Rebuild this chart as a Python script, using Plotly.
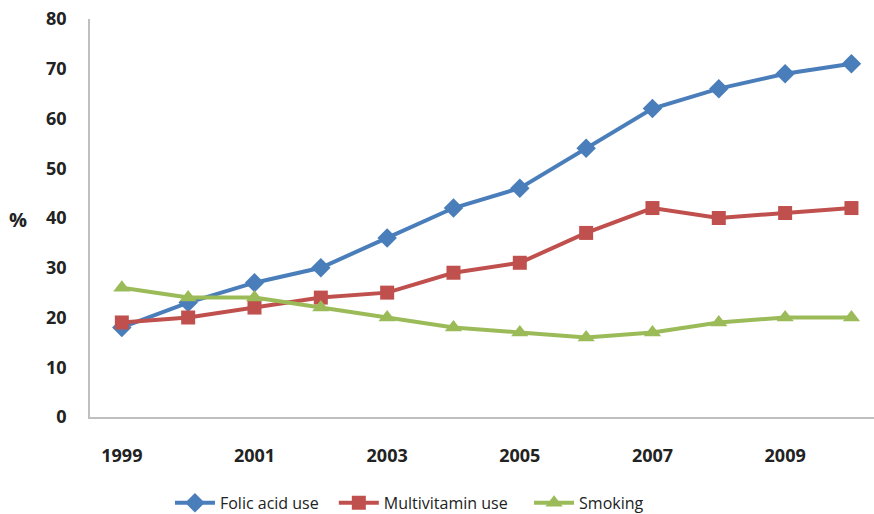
import plotly.graph_objects as go

years = [1999, 2000, 2001, 2002, 2003, 2004, 2005, 2006, 2007, 2008, 2009, 2010]
folic = [18, 23, 27, 30, 36, 42, 46, 54, 62, 66, 69, 71]
multivit = [19, 20, 22, 24, 25, 29, 31, 37, 42, 40, 41, 42]
smoking = [26, 24, 24, 22, 20, 18, 17, 16, 17, 19, 20, 20]
x_ticks = [1999, 2001, 2003, 2005, 2007, 2009]
y_ticks = [0, 10, 20, 30, 40, 50, 60, 70, 80]

fig = go.Figure()
fig.add_trace(go.Scatter(x=years, y=folic, name="Folic acid use", mode="lines+markers",
                         line=dict(color="#4A7EBB", width=4),
                         marker=dict(symbol="diamond", size=15, color="#4A7EBB"),
                         legend="legend"))
fig.add_trace(go.Scatter(x=years, y=multivit, name="Multivitamin use", mode="lines+markers",
                         line=dict(color="#C0504D", width=4),
                         marker=dict(symbol="square", size=14, color="#C0504D"),
                         legend="legend2"))
fig.add_trace(go.Scatter(x=years, y=smoking, name="Smoking", mode="lines+markers",
                         line=dict(color="#9BBB59", width=4),
                         marker=dict(symbol="triangle-up", size=15, color="#9BBB59"),
                         legend="legend3"))

leg_common = dict(orientation="h", y=-0.216, yanchor="middle", xanchor="left",
                  font=dict(size=16, color="#222222", family="Open Sans"), itemwidth=40,
                  bgcolor="rgba(0,0,0,0)")
fig.update_layout(
    width=874, height=514,
    margin=dict(l=90, r=0, t=19, b=97, autoexpand=False),
    paper_bgcolor="white", plot_bgcolor="white",
    font=dict(family="Open Sans", color="#222222"),
    showlegend=True,
    legend=dict(x=0.102, **leg_common),
    legend2=dict(x=0.311, **leg_common),
    legend3=dict(x=0.56, **leg_common),
    xaxis=dict(range=[1998.52, 2010.34], tickvals=x_ticks, showgrid=False, zeroline=False,
               showline=True, linecolor="#BFBFBF", linewidth=1.5, ticks="",
               tickfont=dict(size=18, family="Open Sans", weight="bold", color="#222222"),
               ticklabelstandoff=22),
    yaxis=dict(range=[0, 80], tickvals=y_ticks, showgrid=False, zeroline=False,
               showline=True, linecolor="#BFBFBF", linewidth=1.5, ticks="",
               tickfont=dict(size=18, family="Open Sans", weight="bold", color="#222222"),
               ticklabelstandoff=18),
)
fig.add_annotation(text="<b>%</b>", xref="paper", yref="paper", x=-0.092, y=0.497,
                   showarrow=False, xanchor="center", yanchor="middle",
                   font=dict(size=20, family="Open Sans", color="#222222"))

fig.write_html("out.html")
